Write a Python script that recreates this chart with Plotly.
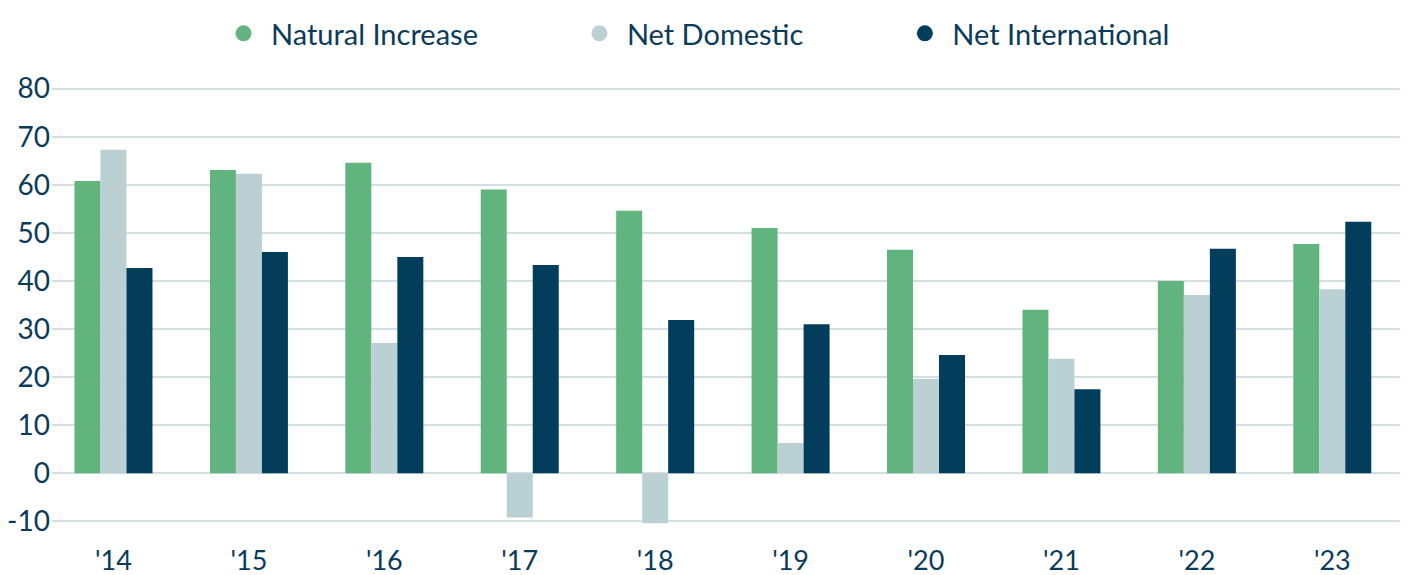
import plotly.graph_objects as go

years = ["'14", "'15", "'16", "'17", "'18", "'19", "'20", "'21", "'22", "'23"]
natural_increase = [60.8, 63.1, 64.6, 59.0, 54.6, 51.0, 46.5, 34.0, 40.0, 47.7]
net_domestic = [67.3, 62.3, 27.1, -9.2, -10.4, 6.3, 19.6, 23.8, 37.1, 38.3]
net_international = [42.7, 46.0, 45.0, 43.3, 31.9, 31.0, 24.6, 17.5, 46.7, 52.3]

series = [
    ("Natural Increase", natural_increase, "#62b47e"),
    ("Net Domestic", net_domestic, "#bbd0d3"),
    ("Net International", net_international, "#023d5b"),
]

text_color = "#0b3b5a"
font_family = "Lato, 'Open Sans', sans-serif"

fig = go.Figure()
pad = "&nbsp;" * 13
for i, (name, vals, color) in enumerate(series):
    fig.add_trace(go.Bar(
        x=years, y=vals, name=name, marker_color=color,
        marker_line_width=0, showlegend=False
    ))
for i, (name, vals, color) in enumerate(series):
    fig.add_trace(go.Scatter(
        x=[None], y=[None], mode="markers",
        name="&nbsp;" + name + (pad if i < 2 else ""),
        marker=dict(symbol="circle", size=22, color=color)
    ))

# page body has an 8px margin, so the figure is sized to fit the window
fig.update_layout(
    width=1400, height=567,
    barmode="group", bargap=0.424, bargroupgap=0,
    plot_bgcolor="white", paper_bgcolor="white",
    margin=dict(l=44, r=8, t=71, b=44),
    font=dict(family=font_family, size=28, color=text_color),
    legend=dict(
        orientation="h", xref="container", yref="container",
        x=0.4936, xanchor="center", y=1.0, yanchor="top",
        font=dict(size=29, color=text_color), itemsizing="trace",
        traceorder="normal"
    ),
    xaxis=dict(
        range=[-0.454, 9.5], automargin=False,
        showgrid=False, showline=False, zeroline=False,
        ticks="", ticklabelstandoff=11,
        tickfont=dict(size=27, color=text_color)
    ),
    yaxis=dict(
        range=[-12, 82], automargin=False,
        tickvals=[-10, 0, 10, 20, 30, 40, 50, 60, 70, 80],
        ticktext=["-10", "0", "10", "20", "30", "40", "50", "60", "70", "80"],
        showgrid=True, gridcolor="#d4dfe4", gridwidth=2,
        zeroline=True, zerolinecolor="#d4dfe4", zerolinewidth=2,
        showline=False, ticks="", ticklabelstandoff=1,
        tickfont=dict(size=28, color=text_color)
    ),
)

fig.write_html("out.html")
